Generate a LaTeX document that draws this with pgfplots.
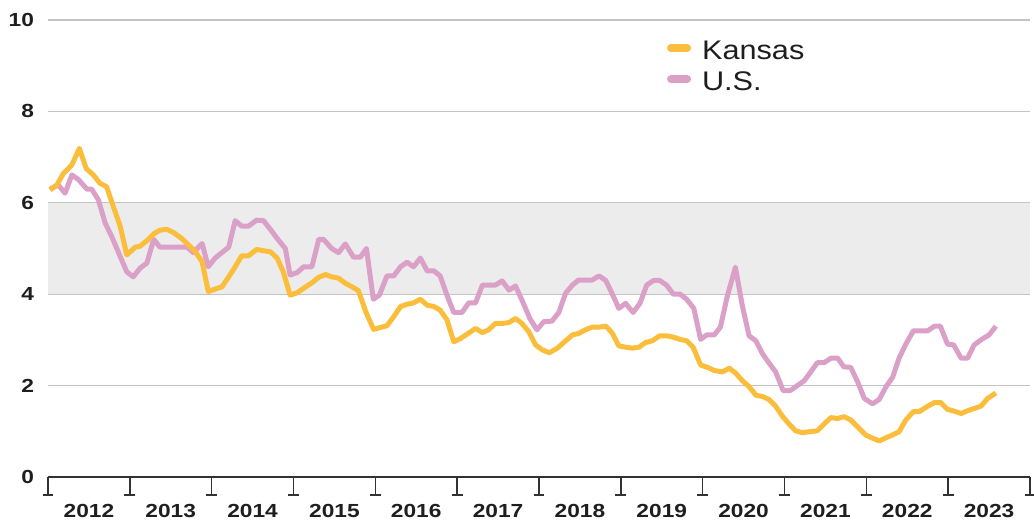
\documentclass[border=0pt]{standalone}
\usepackage{pgfplots}
\pgfplotsset{compat=1.18}
\usepackage{fontspec}
\setmainfont{Liberation Sans}
\newfontfamily\tickfont{Liberation Sans}[FakeStretch=1.2]
\newfontfamily\legfont{Liberation Sans}[FakeStretch=1.14]
\definecolor{ksclr}{RGB}{250,190,60}
\definecolor{usclr}{RGB}{218,160,200}
\definecolor{bandclr}{RGB}{236,236,236}
\definecolor{gridclr}{RGB}{196,196,196}
\definecolor{axclr}{RGB}{50,50,50}
\definecolor{txtclr}{RGB}{30,30,30}

\begin{document}
\begin{tikzpicture}
\useasboundingbox (-24bp,-23bp) rectangle (493bp,238.5bp);
\begin{axis}[
  name=ax,
  scale only axis,
  width=491bp, height=228.5bp,
  xmin=0, xmax=144, ymin=0, ymax=10,
  clip=false,
  axis x line*=bottom,
  axis y line*=left,
  x axis line style={draw=axclr, line width=0.7bp, -},
  y axis line style={draw=none},
  xtick={6,18,...,138},
  xticklabels={2012,2013,2014,2015,2016,2017,2018,2019,2020,2021,2022,2023},
  ytick={0,2,...,10},
  major tick length=0pt,
  /pgf/number format/assume math mode=true,
  xticklabel style={font=\fontsize{9.5}{10}\tickfont\bfseries, text=txtclr, anchor=center, yshift=-17bp},
  yticklabel style={font=\fontsize{9.5}{10}\tickfont\bfseries, text=txtclr, xshift=-3.5bp},
  ymajorgrids,
  grid style={draw=gridclr, line width=0.6bp},
  legend style={draw=none, fill=none, at={(0.630,0.955)}, anchor=north west,
    font=\fontsize{13.5}{16}\legfont, text=txtclr, row sep=6bp, column sep=5.5bp,
    inner sep=0pt, nodes={inner sep=0pt, text height=9.5bp, text depth=0pt}},
  legend cell align=left,
]
\fill[bandclr] (axis cs:0,4) rectangle (axis cs:144,6);
\draw[gridclr, line width=0.6bp] (axis cs:0,4) -- (axis cs:144,4);
\draw[gridclr, line width=0.6bp] (axis cs:0,6) -- (axis cs:144,6);
\pgfplotsinvokeforeach{0,12,24,36,48,60,72,84,96,108,120,132,144}{
  \draw[axclr, line width=0.7bp] (axis cs:#1,0) -- ++(0,-9bp) ++(-2.7bp,0) -- ++(5.4bp,0);
}
\addlegendimage{legend image code/.code={\draw[ksclr, line width=4bp, line cap=round] (2bp,1.2bp) -- (10bp,1.2bp);}}
\addlegendentry{Kansas}
\addlegendimage{legend image code/.code={\draw[usclr, line width=4bp, line cap=round] (2bp,1.2bp) -- (10bp,1.2bp);}}
\addlegendentry{U.S.}
% U.S.
\addplot[usclr, line width=2.5bp, line join=round, forget plot] coordinates {
(0.3,6.30)(1.5,6.39)(2.5,6.21)(3.5,6.61)(4.45,6.51)(5.7,6.30)(6.4,6.30)(7.4,6.06)(8.4,5.55)(9.35,5.26)
(10.6,4.82)(11.55,4.49)(12.5,4.38)(13.5,4.57)(14.5,4.68)(15.5,5.20)(16.4,5.03)(20.4,5.03)(21.3,4.91)(22.6,5.11)
(23.5,4.60)(24.5,4.79)(25.5,4.91)(26.5,5.03)(27.45,5.61)(28.4,5.49)(29.4,5.49)(30.6,5.62)(31.6,5.61)(32.6,5.42)
(33.6,5.22)(34.8,5.00)(35.5,4.42)(36.5,4.47)(37.5,4.60)(38.7,4.60)(39.7,5.20)(40.4,5.20)(41.6,5.00)(42.6,4.91)
(43.6,5.10)(44.8,4.81)(45.8,4.81)(46.7,5.00)(47.7,3.89)(48.6,3.98)(49.7,4.40)(50.7,4.40)(51.7,4.60)(52.65,4.70)
(53.6,4.60)(54.6,4.79)(55.6,4.51)(56.6,4.51)(57.5,4.40)(58.5,3.98)(59.5,3.60)(60.7,3.60)(61.7,3.81)(62.7,3.81)
(63.7,4.20)(64.9,4.20)(65.6,4.20)(66.6,4.29)(67.6,4.09)(68.55,4.18)(69.5,3.87)(70.65,3.47)(71.7,3.22)(72.7,3.40)
(73.9,3.41)(74.9,3.60)(75.9,4.02)(76.9,4.20)(77.8,4.31)(79.8,4.31)(80.8,4.40)(81.8,4.30)(82.7,4.02)(83.7,3.69)
(84.7,3.80)(85.8,3.60)(86.8,3.80)(87.8,4.20)(88.8,4.30)(89.7,4.30)(90.7,4.20)(91.7,4.00)(92.7,4.00)(93.65,3.89)
(94.7,3.69)(95.7,3.01)(96.6,3.11)(97.7,3.11)(98.6,3.28)(99.6,3.95)(100.8,4.59)(101.8,3.76)(102.8,3.09)(103.8,2.98)
(104.8,2.69)(105.7,2.50)(106.7,2.30)(107.8,1.89)(108.8,1.89)(109.8,1.99)(110.9,2.11)(111.85,2.30)(112.8,2.50)(113.8,2.50)
(114.8,2.60)(115.8,2.60)(116.7,2.41)(117.7,2.40)(118.7,2.09)(119.7,1.72)(120.9,1.60)(121.9,1.70)(122.9,1.98)(123.85,2.18)
(124.8,2.60)(125.8,2.91)(126.9,3.20)(128,3.20)(129,3.20)(130,3.30)(130.85,3.30)(131.9,2.91)(132.8,2.89)(133.9,2.60)
(134.85,2.60)(135.8,2.89)(136.8,3.00)(138,3.11)(139,3.30)
};
% Kansas
\addplot[ksclr, line width=2.5bp, line join=round, forget plot] coordinates {
(0.3,6.28)(1.3,6.39)(2.25,6.64)(3.5,6.83)(4.6,7.19)(5.6,6.75)(6.65,6.61)(7.6,6.43)(8.6,6.35)(9.6,5.91)
(10.6,5.48)(11.55,4.86)(12.8,5.03)(13.5,5.05)(14.5,5.17)(15.5,5.32)(16.4,5.40)(17.4,5.42)(18.4,5.35)(19.6,5.22)
(20.6,5.08)(21.6,4.93)(22.6,4.71)(23.5,4.06)(24.5,4.11)(25.5,4.16)(26.5,4.38)(27.45,4.60)(28.4,4.84)(29.4,4.84)
(30.6,4.98)(31.6,4.95)(32.6,4.93)(33.6,4.79)(34.5,4.49)(35.5,3.98)(36.5,4.03)(37.7,4.15)(38.7,4.25)(39.7,4.37)
(40.7,4.43)(41.6,4.38)(42.6,4.35)(43.6,4.24)(44.6,4.16)(45.5,4.08)(46.7,3.58)(47.75,3.23)(48.7,3.27)(49.7,3.31)
(50.7,3.51)(51.7,3.73)(52.65,3.78)(53.6,3.81)(54.6,3.89)(55.6,3.76)(56.6,3.73)(57.5,3.65)(58.5,3.44)(59.5,2.96)
(60.5,3.03)(61.5,3.13)(62.7,3.25)(63.7,3.16)(64.6,3.22)(65.6,3.36)(66.6,3.36)(67.6,3.38)(68.55,3.47)(69.5,3.36)
(70.5,3.18)(71.5,2.89)(72.5,2.78)(73.5,2.72)(74.7,2.82)(75.6,2.94)(76.9,3.11)(77.8,3.14)(78.8,3.22)(79.8,3.28)
(80.8,3.28)(81.8,3.30)(82.7,3.16)(83.7,2.87)(84.7,2.84)(85.7,2.82)(86.65,2.84)(87.6,2.94)(88.6,2.98)(89.7,3.09)
(90.7,3.09)(91.7,3.06)(92.7,3.01)(93.65,2.98)(94.6,2.84)(95.7,2.45)(96.7,2.40)(97.7,2.33)(98.9,2.30)(99.9,2.38)
(100.8,2.28)(101.8,2.11)(102.8,1.98)(103.8,1.79)(104.8,1.76)(105.7,1.70)(106.7,1.55)(107.7,1.33)(108.6,1.17)(109.65,1.01)
(110.6,0.97)(111.6,0.99)(112.8,1.01)(113.8,1.16)(114.8,1.30)(115.8,1.28)(116.7,1.32)(117.7,1.25)(118.7,1.10)(119.9,0.92)
(120.9,0.85)(121.9,0.79)(122.9,0.86)(123.85,0.92)(124.8,0.99)(125.8,1.25)(126.9,1.43)(127.75,1.43)(129,1.55)(130,1.63)
(130.9,1.63)(131.9,1.48)(132.9,1.44)(133.9,1.39)(134.85,1.45)(135.8,1.50)(136.8,1.55)(137.8,1.72)(139,1.84)
};
\end{axis}
\end{tikzpicture}
\end{document}
